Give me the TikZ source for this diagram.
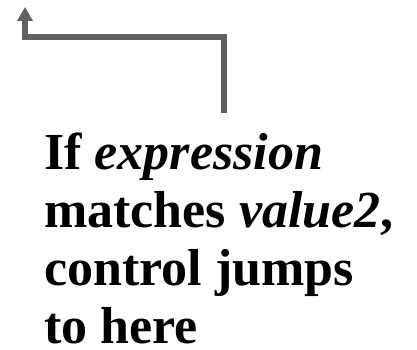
\documentclass[tikz,border=0pt]{standalone}
\usepackage{fontspec}
\setmainfont{Liberation Serif}
\usepackage{tikz}
\usetikzlibrary{arrows.meta}

\begin{document}
\begin{tikzpicture}[x=1pt, y=-1pt,
    jumparrow/.style={draw=black!62, line width=6pt, line join=miter,
        -{Triangle[width=15pt, length=14pt]}},
    notetext/.style={inner sep=0pt, align=left, anchor=base west,
        font=\fontsize{52}{58}\selectfont\bfseries}]
    \useasboundingbox (0,0) rectangle (417,350);
    % jump target arrow
    \coordinate (src) at (224,113);
    \coordinate (bend) at (25,37);
    \coordinate (dst) at (25,7);
    \draw[jumparrow] (src) |- (bend) -- (dst);
    % explanation
    \node[notetext] (note) at (44,343) {If \textit{expression}\\matches \textit{value2},\\control jumps\\to here};
\end{tikzpicture}
\end{document}
